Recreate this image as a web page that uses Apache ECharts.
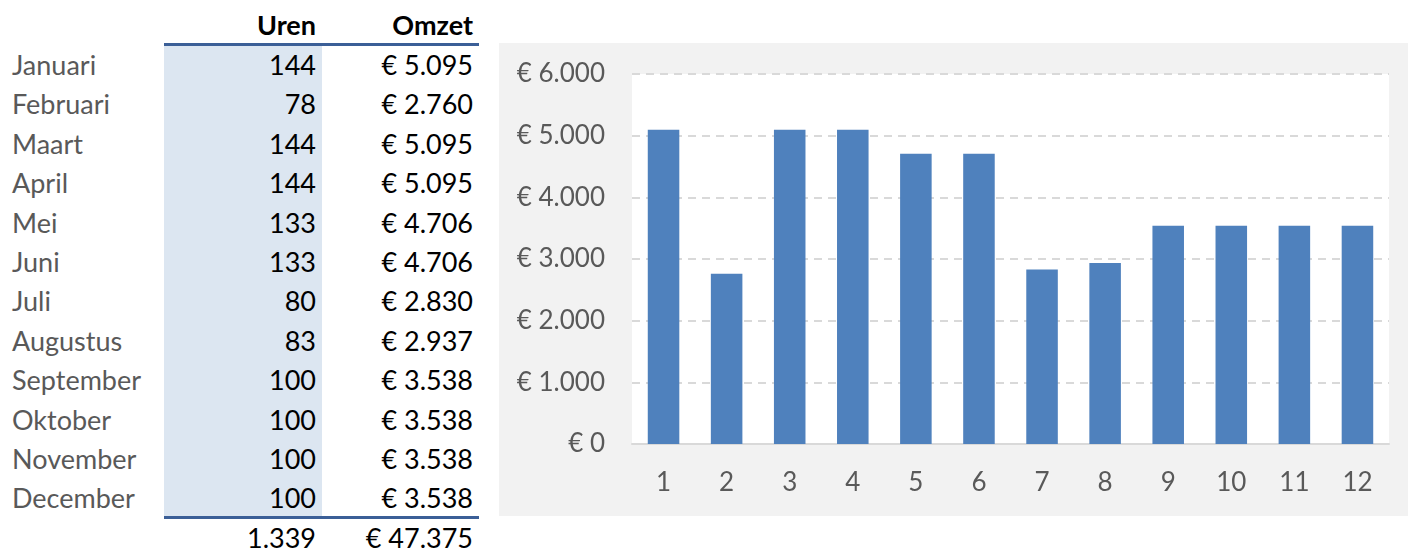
<!DOCTYPE html>
<html>
<head>
<meta charset="utf-8">
<title>Uren en omzet per maand</title>
<script src="https://cdn.jsdelivr.net/npm/echarts@6/dist/echarts.min.js"></script>
<style>
  html, body { margin: 0; padding: 0; background: #fff; }
  body { width: 1408px; height: 549px; position: relative; overflow: hidden; font-family: Lato, "Open Sans", sans-serif; }
  .cell { position: absolute; font-size: 27px; line-height: 30px; white-space: nowrap; }
  .month { left: 12px; color: #595959; }
  .num { text-align: right; color: #000; }
  .head { font-weight: bold; }
  .shade { position: absolute; left: 164px; top: 46px; width: 158px; height: 470px; background: #dce6f1; }
  .rule { position: absolute; left: 164px; width: 315px; height: 3px; background: #3b5f97; }
  #chart { position: absolute; left: 499px; top: 43px; width: 909px; height: 473px; }
</style>
</head>
<body>
<div class="shade"></div>
<div class="rule" style="top:43px"></div>
<div class="rule" style="top:516px"></div>
<div id="table"></div>
<div id="chart"></div>

<script>
// tabel data
const months = ['Januari', 'Februari', 'Maart', 'April', 'Mei', 'Juni', 'Juli',
  'Augustus', 'September', 'Oktober', 'November', 'December'];
const uren = [144, 78, 144, 144, 133, 133, 80, 83, 100, 100, 100, 100];
const omzet = [5095, 2760, 5095, 5095, 4706, 4706, 2830, 2937, 3538, 3538, 3538, 3538];
const totaalUren = 1339;
const totaalOmzet = 47375;

// grafiek
const monthNumbers = ['1', '2', '3', '4', '5', '6', '7', '8', '9', '10', '11', '12'];

function nl(n) {
  return String(n).replace(/\B(?=(\d{3})+(?!\d))/g, '.');
}
function euro(n) {
  return '€ ' + nl(n);
}

// tabel opbouwen
const table = document.getElementById('table');
function addCell(text, cls, top, right) {
  const d = document.createElement('div');
  d.className = 'cell ' + cls;
  d.textContent = text;
  d.style.top = top + 'px';
  if (right !== undefined) d.style.right = (1408 - right) + 'px';
  table.appendChild(d);
}

addCell('Uren', 'num head', 10, 316);
addCell('Omzet', 'num head', 10, 473);
months.forEach((m, i) => {
  const top = 65 + 39.4 * i - 15;
  addCell(m, 'month', top);
  addCell(String(uren[i]), 'num', top, 316);
  addCell(euro(omzet[i]), 'num', top, 473);
});
addCell(nl(totaalUren), 'num', 523, 316);
addCell(euro(totaalOmzet), 'num', 523, 473);

const myChart = echarts.init(document.getElementById('chart'));

const option = {
  backgroundColor: '#f2f2f2',
  animation: false,
  grid: {
    left: 133,
    right: 19,
    top: 31,
    bottom: 72,
    show: true,
    backgroundColor: '#ffffff',
    borderWidth: 0
  },
  xAxis: {
    type: 'category',
    data: monthNumbers,
    axisTick: { show: false },
    axisLine: { lineStyle: { color: '#d9d9d9', width: 2 } },
    axisLabel: {
      color: '#595959',
      fontFamily: 'Lato',
      fontSize: 26,
      margin: 26
    }
  },
  yAxis: {
    type: 'value',
    min: 0,
    max: 6000,
    interval: 1000,
    axisLine: { show: false },
    axisTick: { show: false },
    axisLabel: {
      color: '#595959',
      fontFamily: 'Lato',
      fontSize: 26,
      margin: 27,
      formatter: v => euro(v)
    },
    splitLine: {
      lineStyle: { color: '#d9d9d9', width: 2, type: [8, 6] }
    }
  },
  series: [
    {
      name: 'Omzet',
      type: 'bar',
      data: omzet,
      barWidth: '50%',
      itemStyle: { color: '#4f81bd' }
    }
  ]
};

myChart.setOption(option);
</script>
</body>
</html>
